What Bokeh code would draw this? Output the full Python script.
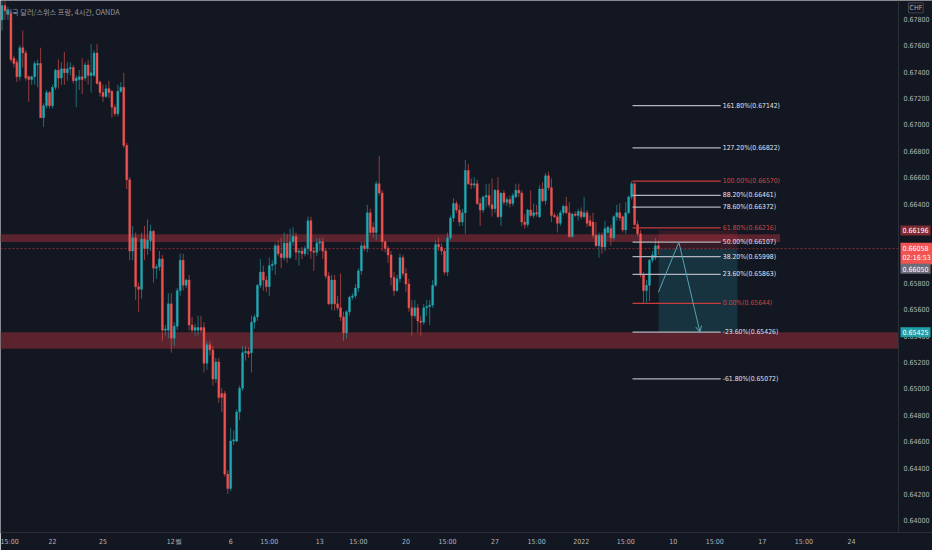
from bokeh.plotting import figure
from bokeh.models import (Range1d, FixedTicker, ColumnDataSource, Label,
                          Arrow, OpenHead, NumeralTickFormatter)
from bokeh.embed import file_html
from bokeh.resources import INLINE
from bokeh.core.properties import value

# ---------------- data ----------------
TITLE = "미국 달러/스위스 프랑, 4시간, OANDA"
CURRENCY = "CHF"

opens = [
    0.6779, 0.6790, 0.6784, 0.6784, 0.6750, 0.6747, 0.6736, 0.6758, 0.6754, 0.6736,
    0.6734, 0.6736, 0.6745, 0.6746, 0.6705, 0.6714, 0.6724, 0.6714, 0.6728, 0.6741,
    0.6735, 0.6742, 0.6739, 0.6742, 0.6743, 0.6733, 0.6734, 0.6736, 0.6735, 0.6745,
    0.6737, 0.6737, 0.6754, 0.6732, 0.6724, 0.6721, 0.6727, 0.6725, 0.6713, 0.6708,
    0.6725, 0.6728, 0.6684, 0.6658, 0.6604, 0.6614, 0.6577, 0.6575, 0.6613, 0.6606,
    0.6612, 0.6619, 0.6591, 0.6592, 0.6598, 0.6544, 0.6544, 0.6564, 0.6538, 0.6547,
    0.6574, 0.6597, 0.6578, 0.6582, 0.6548, 0.6544, 0.6544, 0.6546, 0.6546, 0.6519,
    0.6533, 0.6529, 0.6507, 0.6520, 0.6496, 0.6496, 0.6435, 0.6424, 0.6460, 0.6460,
    0.6482, 0.6500, 0.6527, 0.6528, 0.6527, 0.6550, 0.6554, 0.6578, 0.6588, 0.6582,
    0.6577, 0.6593, 0.6594, 0.6608, 0.6602, 0.6599, 0.6610, 0.6599, 0.6611, 0.6615,
    0.6603, 0.6604, 0.6602, 0.6606, 0.6627, 0.6604, 0.6603, 0.6610, 0.6611, 0.6604,
    0.6585, 0.6564, 0.6582, 0.6564, 0.6561, 0.6554, 0.6542, 0.6558, 0.6569, 0.6570,
    0.6576, 0.6589, 0.6608, 0.6606, 0.6633, 0.6622, 0.6618, 0.6655, 0.6648, 0.6611,
    0.6606, 0.6601, 0.6584, 0.6574, 0.6583, 0.6599, 0.6587, 0.6579, 0.6561, 0.6555,
    0.6561, 0.6551, 0.6550, 0.6561, 0.6562, 0.6563, 0.6578, 0.6609, 0.6607, 0.6604,
    0.6588, 0.6614, 0.6629, 0.6640, 0.6635, 0.6626, 0.6633, 0.6665, 0.6655, 0.6654,
    0.6655, 0.6640, 0.6635, 0.6645, 0.6646, 0.6639, 0.6636, 0.6650, 0.6630, 0.6648,
    0.6641, 0.6643, 0.6640, 0.6645, 0.6650, 0.6648, 0.6626, 0.6624, 0.6635, 0.6631,
    0.6633, 0.6630, 0.6651, 0.6642, 0.6661, 0.6652, 0.6631, 0.6630, 0.6625, 0.6633,
    0.6638, 0.6633, 0.6615, 0.6632, 0.6631, 0.6634,
    0.6630, 0.6633, 0.6627, 0.6626, 0.6616, 0.6608, 0.6616, 0.6607, 0.6618, 0.6621,
    0.6614, 0.6630, 0.6633, 0.6630, 0.6620, 0.6633, 0.6645, 0.6655, 0.6624, 0.6617,
    0.6586, 0.6574, 0.6578, 0.6597, 0.6599, 0.6608,
]
highs = [
    0.6794, 0.6794, 0.6789, 0.6786, 0.6752, 0.6749, 0.6760, 0.6771, 0.6756, 0.6737,
    0.6737, 0.6748, 0.6749, 0.6758, 0.6716, 0.6726, 0.6725, 0.6730, 0.6742, 0.6749,
    0.6747, 0.6755, 0.6747, 0.6747, 0.6745, 0.6737, 0.6741, 0.6750, 0.6747, 0.6749,
    0.6761, 0.6756, 0.6761, 0.6733, 0.6730, 0.6730, 0.6733, 0.6726, 0.6715, 0.6730,
    0.6732, 0.6739, 0.6686, 0.6660, 0.6623, 0.6618, 0.6580, 0.6618, 0.6623, 0.6628,
    0.6624, 0.6620, 0.6594, 0.6604, 0.6601, 0.6548, 0.6572, 0.6572, 0.6550, 0.6576,
    0.6602, 0.6602, 0.6583, 0.6586, 0.6554, 0.6549, 0.6555, 0.6555, 0.6550, 0.6536,
    0.6536, 0.6532, 0.6523, 0.6523, 0.6500, 0.6498, 0.6438, 0.6470, 0.6468, 0.6484,
    0.6502, 0.6532, 0.6532, 0.6531, 0.6555, 0.6556, 0.6579, 0.6598, 0.6593, 0.6585,
    0.6599, 0.6597, 0.6610, 0.6612, 0.6614, 0.6618, 0.6617, 0.6621, 0.6622, 0.6618,
    0.6606, 0.6607, 0.6608, 0.6630, 0.6630, 0.6607, 0.6614, 0.6614, 0.6614, 0.6606,
    0.6588, 0.6586, 0.6586, 0.6570, 0.6587, 0.6558, 0.6559, 0.6570, 0.6572, 0.6579,
    0.6591, 0.6611, 0.6611, 0.6639, 0.6636, 0.6626, 0.6657, 0.6676, 0.6650, 0.6612,
    0.6608, 0.6604, 0.6588, 0.6586, 0.6602, 0.6601, 0.6591, 0.6583, 0.6567, 0.6567,
    0.6564, 0.6555, 0.6564, 0.6567, 0.6567, 0.6582, 0.6612, 0.6614, 0.6610, 0.6606,
    0.6618, 0.6631, 0.6644, 0.6642, 0.6639, 0.6636, 0.6673, 0.6670, 0.6659, 0.6660,
    0.6658, 0.6644, 0.6646, 0.6655, 0.6655, 0.6659, 0.6651, 0.6660, 0.6648, 0.6650,
    0.6645, 0.6646, 0.6648, 0.6655, 0.6655, 0.6650, 0.6632, 0.6636, 0.6650, 0.6640,
    0.6639, 0.6654, 0.6656, 0.6663, 0.6664, 0.6659, 0.6633, 0.6632, 0.6635, 0.6639,
    0.6645, 0.6641, 0.6633, 0.6634, 0.6636, 0.6637,
    0.6645, 0.6635, 0.6631, 0.6633, 0.6626, 0.6618, 0.6618, 0.6627, 0.6623, 0.6624,
    0.6631, 0.6639, 0.6640, 0.6631, 0.6641, 0.6646, 0.6657, 0.6656, 0.6627, 0.6620,
    0.6588, 0.6582, 0.6598, 0.6604, 0.6614, 0.6612,
]
lows = [
    0.6771, 0.6779, 0.6779, 0.6747, 0.6743, 0.6732, 0.6733, 0.6743, 0.6733, 0.6717,
    0.6730, 0.6730, 0.6728, 0.6705, 0.6698, 0.6712, 0.6712, 0.6712, 0.6726, 0.6727,
    0.6730, 0.6730, 0.6733, 0.6737, 0.6731, 0.6713, 0.6726, 0.6723, 0.6733, 0.6730,
    0.6724, 0.6736, 0.6730, 0.6721, 0.6717, 0.6720, 0.6720, 0.6705, 0.6706, 0.6706,
    0.6724, 0.6682, 0.6651, 0.6597, 0.6597, 0.6567, 0.6558, 0.6568, 0.6597, 0.6601,
    0.6604, 0.6580, 0.6583, 0.6589, 0.6536, 0.6540, 0.6538, 0.6527, 0.6532, 0.6544,
    0.6570, 0.6574, 0.6576, 0.6544, 0.6542, 0.6540, 0.6540, 0.6542, 0.6512, 0.6514,
    0.6525, 0.6502, 0.6504, 0.6489, 0.6482, 0.6433, 0.6420, 0.6422, 0.6457, 0.6459,
    0.6476, 0.6498, 0.6521, 0.6523, 0.6512, 0.6545, 0.6551, 0.6576, 0.6574, 0.6573,
    0.6570, 0.6589, 0.6586, 0.6600, 0.6591, 0.6597, 0.6595, 0.6598, 0.6608, 0.6597,
    0.6593, 0.6598, 0.6600, 0.6601, 0.6598, 0.6589, 0.6600, 0.6604, 0.6598, 0.6583,
    0.6563, 0.6559, 0.6559, 0.6559, 0.6551, 0.6536, 0.6538, 0.6555, 0.6567, 0.6568,
    0.6573, 0.6586, 0.6604, 0.6603, 0.6616, 0.6614, 0.6612, 0.6646, 0.6604, 0.6603,
    0.6595, 0.6578, 0.6570, 0.6573, 0.6580, 0.6585, 0.6573, 0.6558, 0.6540, 0.6553,
    0.6542, 0.6540, 0.6548, 0.6555, 0.6548, 0.6561, 0.6577, 0.6604, 0.6601, 0.6586,
    0.6585, 0.6612, 0.6626, 0.6633, 0.6623, 0.6623, 0.6617, 0.6654, 0.6651, 0.6652,
    0.6639, 0.6623, 0.6633, 0.6637, 0.6637, 0.6630, 0.6633, 0.6629, 0.6623, 0.6639,
    0.6638, 0.6637, 0.6638, 0.6644, 0.6645, 0.6623, 0.6621, 0.6622, 0.6630, 0.6629,
    0.6630, 0.6629, 0.6641, 0.6639, 0.6650, 0.6626, 0.6629, 0.6618, 0.6623, 0.6631,
    0.6632, 0.6614, 0.6614, 0.6630, 0.6627, 0.6628,
    0.6629, 0.6622, 0.6623, 0.6614, 0.6607, 0.6599, 0.6602, 0.6604, 0.6617, 0.6608,
    0.6612, 0.6627, 0.6627, 0.6618, 0.6617, 0.6632, 0.6643, 0.6623, 0.6615, 0.6584,
    0.65644, 0.6565, 0.6566, 0.6595, 0.6597, 0.6601,
]
closes = [
    0.6790, 0.6786, 0.6786, 0.6749, 0.6746, 0.6736, 0.6758, 0.6754, 0.6735, 0.6734,
    0.6736, 0.6746, 0.6746, 0.6705, 0.6714, 0.6724, 0.6714, 0.6728, 0.6741, 0.6735,
    0.6742, 0.6739, 0.6742, 0.6743, 0.6733, 0.6735, 0.6736, 0.6734, 0.6745, 0.6737,
    0.6739, 0.6754, 0.6731, 0.6724, 0.6721, 0.6727, 0.6724, 0.6713, 0.6708, 0.6725,
    0.6728, 0.6684, 0.6658, 0.6604, 0.6614, 0.6577, 0.6575, 0.6613, 0.6606, 0.6612,
    0.6619, 0.6591, 0.6592, 0.6598, 0.6544, 0.6545, 0.6564, 0.6538, 0.6547, 0.6574,
    0.6597, 0.6578, 0.6582, 0.6548, 0.6544, 0.6546, 0.6546, 0.6544, 0.6519, 0.6533,
    0.6529, 0.6507, 0.6520, 0.6493, 0.6493, 0.6435, 0.6424, 0.6460, 0.6461, 0.6482,
    0.6500, 0.6527, 0.6528, 0.6526, 0.6550, 0.6554, 0.6578, 0.6588, 0.6582, 0.6577,
    0.6593, 0.6594, 0.6608, 0.6602, 0.6599, 0.6610, 0.6599, 0.6611, 0.6615, 0.6603,
    0.6604, 0.6602, 0.6606, 0.6627, 0.6604, 0.6603, 0.6610, 0.6611, 0.6604, 0.6585,
    0.6564, 0.6582, 0.6564, 0.6561, 0.6554, 0.6542, 0.6558, 0.6569, 0.6570, 0.6576,
    0.6589, 0.6608, 0.6606, 0.6633, 0.6618, 0.6618, 0.6655, 0.6648, 0.6611, 0.6606,
    0.6601, 0.6584, 0.6574, 0.6583, 0.6599, 0.6587, 0.6579, 0.6561, 0.6555, 0.6561,
    0.6551, 0.6550, 0.6561, 0.6562, 0.6563, 0.6578, 0.6609, 0.6607, 0.6604, 0.6588,
    0.6614, 0.6629, 0.6640, 0.6635, 0.6626, 0.6633, 0.6665, 0.6655, 0.6654, 0.6655,
    0.6640, 0.6635, 0.6645, 0.6646, 0.6639, 0.6636, 0.6650, 0.6630, 0.6648, 0.6641,
    0.6643, 0.6640, 0.6646, 0.6650, 0.6648, 0.6626, 0.6624, 0.6635, 0.6631, 0.6633,
    0.6632, 0.6651, 0.6642, 0.6661, 0.6652, 0.6631, 0.6630, 0.6625, 0.6633, 0.6638,
    0.6633, 0.6615, 0.6632, 0.6631, 0.6634, 0.6630,
    0.6633, 0.6625, 0.6623, 0.6616, 0.6608, 0.6616, 0.6607, 0.6621, 0.6622, 0.6614,
    0.6630, 0.6633, 0.6629, 0.6620, 0.6633, 0.6645, 0.6655, 0.6624, 0.6617, 0.6586,
    0.6574, 0.6578, 0.6597, 0.6601, 0.6608, 0.66058,
]

# x axis: candle index of each date label
x_ticks = [1, 17, 34, 58, 77, 90, 107, 120, 136, 150, 166, 180, 195, 210, 226, 240, 256, 270, 286]
x_labels = ["15:00", "22", "25", "12월", "6", "15:00", "13", "15:00", "20", "15:00", "27",
            "15:00", "2022", "15:00", "10", "15:00", "17", "15:00", "24"]
y_ticks = [0.640, 0.642, 0.644, 0.646, 0.648, 0.650, 0.652, 0.654, 0.656, 0.658,
           0.660, 0.662, 0.664, 0.666, 0.668, 0.670, 0.672, 0.674, 0.676, 0.678]

fib_pcts = ["161.80%", "127.20%", "100.00%", "88.20%", "78.60%", "61.80%",
            "50.00%", "38.20%", "23.60%", "0.00%", "-23.60%", "-61.80%"]
fib_prices = [0.67142, 0.66822, 0.66570, 0.66461, 0.66372, 0.66216,
              0.66107, 0.65998, 0.65863, 0.65644, 0.65426, 0.65072]
fib_is_red = [False, False, True, False, False, True,
              False, False, False, True, False, False]

zone_tops = [0.66167, 0.65425]
zone_bottoms = [0.66108, 0.65300]

entry_price = 0.66058
stop_price = 0.66196
target_price = 0.65425
path_prices = [0.65727, 0.66107, 0.65426]

tag_prices = [0.66196, 0.66058, 0.66050, 0.65425]
tag_texts = ["0.66196", "0.66058\n02:16:53", "0.66050", "0.65425"]

# ---------------- layout / style ----------------
BG = "#131722"
UP = "#22a9b3"
DOWN = "#ef5350"
TXT = "#b2b5be"
NARROW = "'DejaVu Sans Condensed', 'Liberation Sans Narrow', sans-serif"

n = len(closes)
idx = list(range(n))
colors = [UP if c >= o else DOWN for o, c in zip(opens, closes)]
src = ColumnDataSource(dict(
    x=idx, o=opens, h=highs, l=lows, c=closes,
    top=[max(o, c) for o, c in zip(opens, closes)],
    bot=[min(o, c) for o, c in zip(opens, closes)],
    col=colors,
))

# the frame covers the whole canvas width; the price scale sits at a fixed spot
x_start, x_axis_at, x_end = -0.505, 301.85, 313.3
p = figure(width=932, height=550, output_backend="svg", toolbar_location=None,
           x_range=Range1d(x_start, x_end), y_range=Range1d(0.639076, 0.679379),
           y_axis_location="right",
           min_border_left=0, min_border_top=0, min_border_right=0, min_border_bottom=18,
           background_fill_color=BG, border_fill_color=BG)
p.outline_line_color = None
p.grid.grid_line_color = None

# title (under the candles)
p.add_layout(Label(x=5, y=0.67847, x_units="screen", text=TITLE, text_font="Noto Sans CJK KR",
                   text_font_size="7.2px", text_color="#9598a1", text_baseline="middle",
                   level="underlay"))

# support / resistance zones
p.quad(left=[x_start, x_start], right=[262, x_axis_at], top=zone_tops, bottom=zone_bottoms,
       fill_color="#5a232d", fill_alpha=1.0, line_color=None)

# position tool
trade_left, trade_right = 221.1, 247.6
p.quad(left=[trade_left], right=[trade_right], top=[entry_price], bottom=[target_price],
       fill_color="#22a6b3", fill_alpha=0.2, line_color=None)
p.quad(left=[trade_left], right=[trade_right], top=[stop_price], bottom=[entry_price],
       fill_color="#f23645", fill_alpha=0.15, line_color=None)

# current price line
p.segment(x0=[x_start], x1=[x_axis_at], y0=[entry_price], y1=[entry_price],
          line_color="#f23645", line_alpha=0.55, line_width=1, line_dash="2 2")

# candles
p.segment(x0="x", y0="h", x1="x", y1="l", source=src, line_color="col", line_alpha=0.6, line_width=1)
p.vbar(x="x", width=0.66, top="top", bottom="bot", source=src, fill_color="col",
       line_color="col", line_width=0.4)

# fibonacci levels
fib_x0, fib_x1 = 212.3, 242.0
fib_line_cols = ["#c93c3c" if r else "#b2b5be" for r in fib_is_red]
fib_text_cols = ["#d4453f" if r else "#e0e3eb" for r in fib_is_red]
p.segment(x0=[fib_x0] * len(fib_prices), x1=[fib_x1] * len(fib_prices), y0=fib_prices, y1=fib_prices,
          line_color=fib_line_cols, line_width=1.3)
p.text(x=[fib_x1] * len(fib_prices), y=fib_prices,
       text=[f"{t}({v:.5f})" for t, v in zip(fib_pcts, fib_prices)],
       text_color=fib_text_cols, text_font=value(NARROW), text_font_size="6.8px",
       text_baseline="middle", text_align="left", x_offset=2)

# projected path
path_x = [221.0, 227.9, 235.0]
p.line(x=path_x, y=path_prices, line_color="#5aa3b3", line_width=1)
p.add_layout(Arrow(end=OpenHead(size=6, line_color="#5aa3b3", line_width=1),
                   x_start=path_x[1], y_start=path_prices[1], x_end=path_x[2], y_end=path_prices[2],
                   line_color="#5aa3b3", line_width=1, line_alpha=0.0))

# axes
p.yaxis.fixed_location = x_axis_at
p.yaxis.ticker = FixedTicker(ticks=y_ticks)
p.yaxis.formatter = NumeralTickFormatter(format="0.00000")
p.xaxis.ticker = FixedTicker(ticks=x_ticks)
p.xaxis.major_label_overrides = {t: s for t, s in zip(x_ticks, x_labels)}
for ax in (p.xaxis, p.yaxis):
    ax.axis_line_color = "#2a2e39"
    ax.major_tick_line_color = None
    ax.minor_tick_line_color = None
    ax.major_tick_out = 0
    ax.major_tick_in = 0
    ax.minor_tick_out = 0
    ax.minor_tick_in = 0
    ax.major_label_text_color = TXT
    ax.major_label_text_font = NARROW
    ax.major_label_text_font_size = "7px"
p.yaxis.major_label_standoff = 5
p.xaxis.major_label_standoff = 5

# price tags on the right scale
tag_bgs = ["#7f2a31", "#f05350", "#6a6d78", "#1fa0a8"]
tag_shift = [0, -5, -19, 0]
for price, txt, bg, dy in zip(tag_prices, tag_texts, tag_bgs, tag_shift):
    p.add_layout(Label(x=900, y=price, x_units="screen", y_offset=dy, text=txt,
                       text_font=NARROW, text_font_size="7px", text_color="#ffffff",
                       text_align="left", text_baseline="middle", background_fill_color=bg,
                       padding=2, level="overlay"))
p.add_layout(Label(x=908, y=0.6792, x_units="screen", text=CURRENCY, text_font=NARROW,
                   text_font_size="7px", text_color=TXT, text_baseline="top", text_align="left",
                   border_line_color="#434651", border_line_width=1, background_fill_color=BG,
                   padding=1, level="overlay"))

open("out.html", "w").write(file_html(p, INLINE))
